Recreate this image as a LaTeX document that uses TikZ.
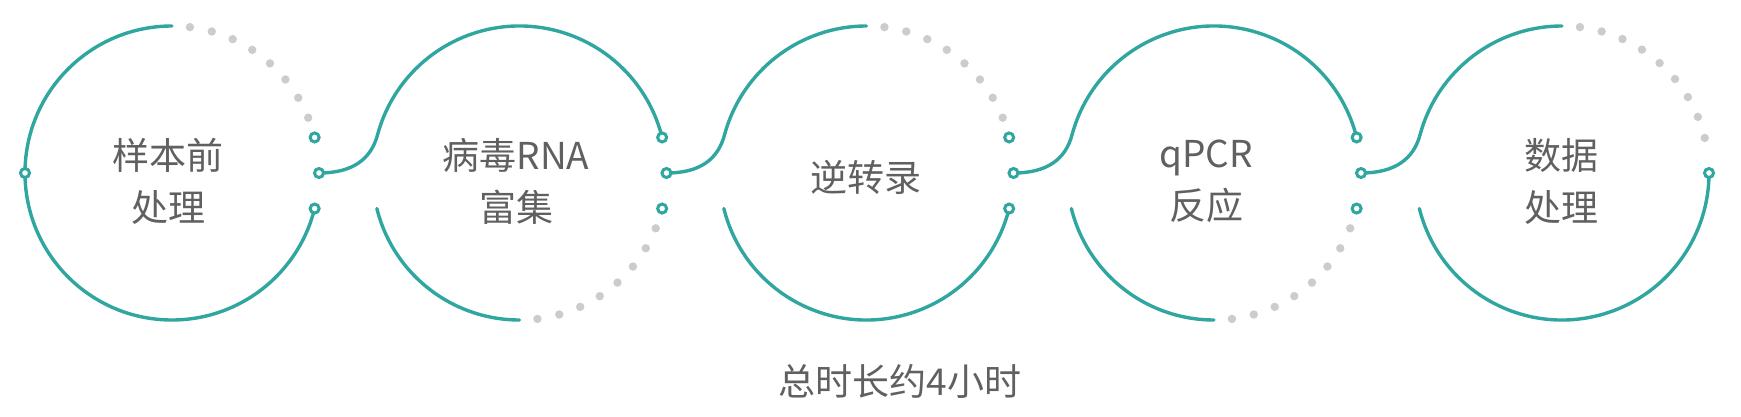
\documentclass[tikz,border=0pt]{standalone}
\usepackage{fontspec}
\newfontfamily\cjk{Noto Sans CJK SC}
\usetikzlibrary{backgrounds}
\definecolor{teal1}{HTML}{30A6A1}
\definecolor{dotgray}{HTML}{CCCCCC}
\definecolor{txtgray}{HTML}{606060}
\tikzset{
  tline/.style={draw=teal1, line width=3.4pt, line cap=round},
  port/.style={circle, draw=teal1, line width=3pt, fill=white, minimum size=9pt, inner sep=0pt},
  dotmark/.style={fill=dotgray, draw=none},
  lbl/.style={font=\cjk\fontsize{37}{52}\selectfont, text=txtgray, align=center, inner sep=0pt}
}
\begin{document}
\begin{tikzpicture}[x=1pt,y=1pt]
\useasboundingbox (0,0) rectangle (1741,416);
\def\R{147}
\coordinate (c1) at (172,243);
\coordinate (c2) at (519.5,243);
\coordinate (c3) at (866.5,243);
\coordinate (c4) at (1214,243);
\coordinate (c5) at (1562,243);

% ports
\node[port] (p1l) at ([shift={(180:\R)}]c1) {};
\foreach \i in {1,2,3,4}{
  \node[port] (p\i t) at ([shift={(14:\R)}]c\i) {};
  \node[port] (p\i m) at ([shift={(0:\R)}]c\i) {};
  \node[port] (p\i b) at ([shift={(-14:\R)}]c\i) {};
}
\node[port] (p5r) at ([shift={(0:\R)}]c5) {};

% labels
\node[lbl] (t1) at (168,235) {样本前\\处理};
\node[lbl] (t2) at (516,235) {病毒RNA\\富集};
\node[lbl] (t3) at (866,239) {逆转录};
\node[lbl] (t4) at (1206,235) {qPCR\\反应};
\node[lbl] (t5) at (1561,235) {数据\\处理};
\node[lbl] (total) at (900,35) {总时长约4小时};

\begin{scope}[on background layer]
\fill[white] (0,0) rectangle (1741,416);
% circle 1
\draw[tline] ([shift={(90:\R)}]c1) arc[start angle=90, end angle=346, radius=\R];
\foreach \k in {0,...,7}{\fill[dotmark] ([shift={({83-8.7*\k}:\R)}]c1) circle (4.2);}
% circle 2
\draw[tline] (p1m.center) .. controls +(34,0) and +(-6.5,-24) .. ([shift={(165:\R)}]c2)
   arc[start angle=165, end angle=14, radius=\R];
\draw[tline] ([shift={(-166:\R)}]c2) arc[start angle=-166, end angle=-90, radius=\R];
\foreach \k in {0,...,7}{\fill[dotmark] ([shift={({-83+8.7*\k}:\R)}]c2) circle (4.2);}
% circle 3
\draw[tline] (p2m.center) .. controls +(34,0) and +(-6.5,-24) .. ([shift={(165:\R)}]c3)
   arc[start angle=165, end angle=90, radius=\R];
\draw[tline] ([shift={(-166:\R)}]c3) arc[start angle=-166, end angle=-14, radius=\R];
\foreach \k in {0,...,7}{\fill[dotmark] ([shift={({83-8.7*\k}:\R)}]c3) circle (4.2);}
% circle 4
\draw[tline] (p3m.center) .. controls +(34,0) and +(-6.5,-24) .. ([shift={(165:\R)}]c4)
   arc[start angle=165, end angle=14, radius=\R];
\draw[tline] ([shift={(-166:\R)}]c4) arc[start angle=-166, end angle=-90, radius=\R];
\foreach \k in {0,...,7}{\fill[dotmark] ([shift={({-83+8.7*\k}:\R)}]c4) circle (4.2);}
% circle 5
\draw[tline] (p4m.center) .. controls +(34,0) and +(-6.5,-24) .. ([shift={(165:\R)}]c5)
   arc[start angle=165, end angle=90, radius=\R];
\draw[tline] ([shift={(-166:\R)}]c5) arc[start angle=-166, end angle=0, radius=\R];
\foreach \k in {0,...,8}{\fill[dotmark] ([shift={({83-8.65*\k}:\R)}]c5) circle (4.2);}
\end{scope}
\end{tikzpicture}
\end{document}
